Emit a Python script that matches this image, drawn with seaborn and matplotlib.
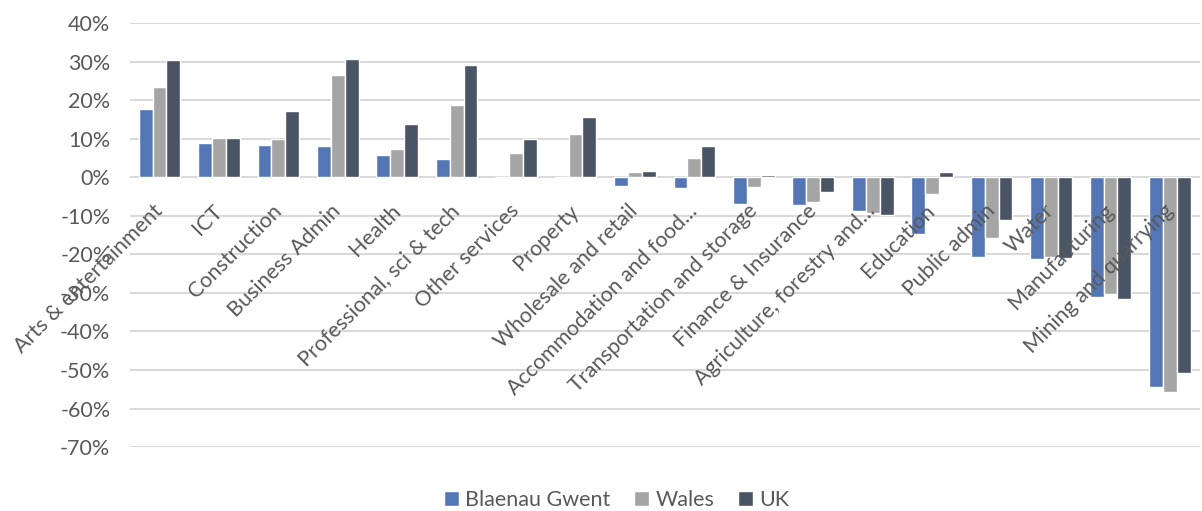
import pandas as pd
import matplotlib.pyplot as plt
import seaborn as sns
from matplotlib.ticker import PercentFormatter

# --- DATA ---
sectors = ["Arts & entertainment", "ICT", "Construction", "Business Admin", "Health",
           "Professional, sci & tech", "Other services", "Property", "Wholesale and retail",
           "Accommodation and food...", "Transportation and storage", "Finance & Insurance",
           "Agriculture, forestry and...", "Education", "Public admin", "Water",
           "Manufacturing", "Mining and quarrying"]
blaenau_gwent = [17.7, 8.8, 8.4, 8.2, 5.7, 4.6, 0.1, -0.3, -2.2, -2.9, -6.9, -7.3,
                 -8.8, -14.6, -20.8, -21.3, -31.0, -54.4]
wales = [23.4, 10.3, 9.9, 26.5, 7.4, 18.7, 6.2, 11.3, 1.3, 5.1, -2.6, -6.3,
         -9.3, -4.4, -15.7, -20.6, -30.3, -55.7]
uk = [30.3, 10.3, 17.2, 30.6, 13.9, 29.0, 9.8, 15.5, 1.7, 8.0, 0.6, -3.9,
      -9.9, 1.3, -11.0, -20.9, -31.5, -50.7]
areas = ["Blaenau Gwent", "Wales", "UK"]
colours = ["#4472C4", "#A5A5A5", "#44546A"]

df = pd.DataFrame({"Sector": sectors * 3,
                   "Area": [a for a in areas for _ in sectors],
                   "Change": blaenau_gwent + wales + uk})

sns.set_style("white")
plt.rcParams['font.family'] = ['Lato', 'DejaVu Sans']
plt.rcParams['axes.unicode_minus'] = False
txt = "#595959"
fs = 15.5

fig = plt.figure(figsize=(12.02, 5.11), dpi=100)
ax = fig.add_axes([0.108, 0.125, 0.89, 0.83])

ticks = list(range(-70, 41, 10))
# gridlines drawn by hand so the sector labels can sit on top of the bars
for t in ticks:
    ax.axhline(t, color="#D9D9D9", linewidth=1.5, zorder=0)

sns.barplot(data=df, x="Sector", y="Change", hue="Area", palette=colours,
            width=0.7, edgecolor="white", linewidth=1, ax=ax, zorder=1)

ax.set_ylim(-70, 40)
ax.set_yticks(ticks)
ax.yaxis.set_major_formatter(PercentFormatter(decimals=0))
ax.set_xlim(-0.5, len(sectors) - 0.5)
ax.set_axisbelow(False)

for s in ax.spines.values():
    s.set_visible(False)
ax.spines['bottom'].set_position(('data', 0))

ax.tick_params(axis="y", length=0, labelsize=fs, labelcolor=txt, pad=14)
ax.tick_params(axis="x", length=0, labelsize=fs, labelcolor=txt, pad=22)
for lab in ax.get_xticklabels():
    lab.set_rotation(45)
    lab.set_ha("right")
    lab.set_va("center")
    lab.set_rotation_mode("anchor")

ax.set_xlabel("")
ax.set_ylabel("")

handles, labels = ax.get_legend_handles_labels()
ax.get_legend().remove()
fig.legend(handles, labels, loc="center", bbox_to_anchor=(0.513, 0.022), ncol=3,
           frameon=False, fontsize=fs, labelcolor=txt, handlelength=0.7,
           handleheight=0.7, handletextpad=0.3, columnspacing=1.1)

plt.savefig("out.png", dpi=100)
